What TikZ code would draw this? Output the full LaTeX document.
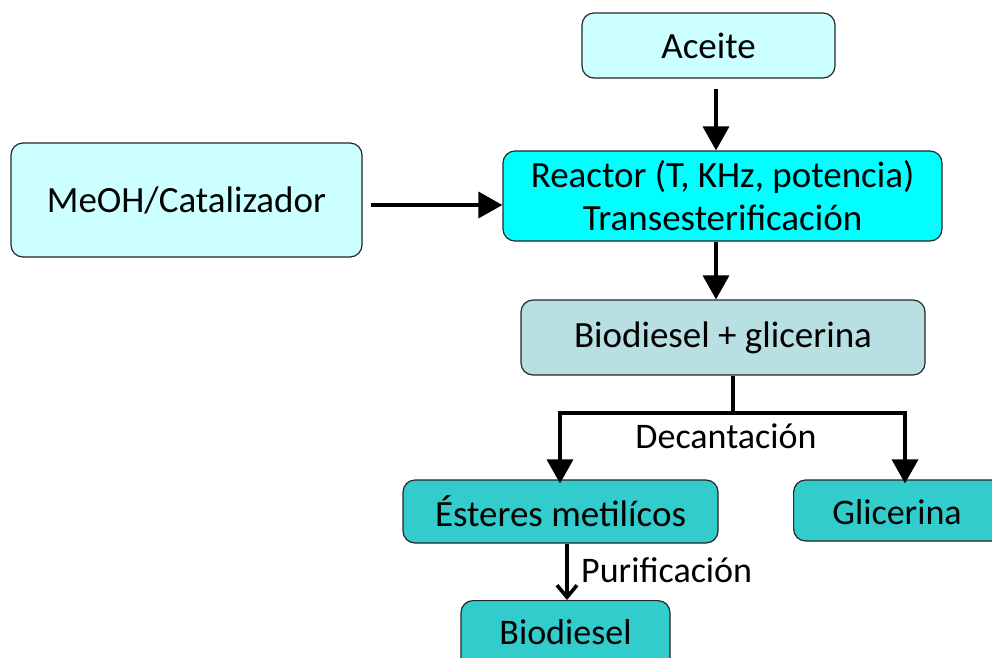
\documentclass[tikz,border=0pt]{standalone}
\usepackage{fontspec}
\setmainfont{Carlito}
\usetikzlibrary{arrows.meta,calc}
\definecolor{lightc}{HTML}{CCFFFF}
\definecolor{cyanc}{HTML}{00FFFF}
\definecolor{greyc}{HTML}{B8DFE2}
\definecolor{tealc}{HTML}{33CCCC}
\tikzset{
  box/.style={draw=black!85, line width=1.2pt, rounded corners=12pt, inner sep=0pt, align=center,
    font=\fontsize{37}{43}\selectfont},
  arr/.style={line width=3.6pt, -{Triangle[width=26pt,length=24pt]}},
  ln/.style={line width=3.6pt},
  lbl/.style={font=\fontsize{36}{40}\selectfont, inner sep=0pt}
}
\begin{document}
\begin{tikzpicture}[x=1pt,y=-1pt]
\useasboundingbox (0,0) rectangle (992,657);
\clip (0,0) rectangle (992,657);
\node[box, fill=lightc, minimum width=253pt, minimum height=65pt] (aceite) at (708.5,45.5) {Aceite};
\node[box, fill=lightc, minimum width=351pt, minimum height=114pt] (meoh) at (186.5,200) {MeOH/Catalizador};
\node[box, fill=cyanc, minimum width=439pt, minimum height=90pt] (reactor) at (722.5,196) {Reactor (T, KHz, potencia)\\Transesterificación};
\node[box, fill=greyc, minimum width=404pt, minimum height=75pt] (bg) at (723,337.5) {Biodiesel + glicerina};
\node[box, fill=tealc, minimum width=315pt, minimum height=63pt] (est) at (560.5,511.5) {Ésteres metilícos};
\node[box, fill=tealc, minimum width=230pt, minimum height=61pt, anchor=west] (gli) at (793,510.5) {};
\node[lbl] (glit) at (897,512) {Glicerina};
\node[box, fill=tealc, minimum width=209pt, minimum height=80pt, anchor=north] (bio) at (565.5,600) {};
\node[lbl] (biot) at (565.5,632) {Biodiesel};
% connectors
\draw[arr] ([xshift=7.5pt,yshift=-10pt]aceite.south) -- ([xshift=7.5pt]aceite.south |- reactor.north);
\draw[arr] ([xshift=-6.5pt]reactor.south) -- ([xshift=-6.5pt]reactor.south |- bg.north);
\draw[arr] ([xshift=8pt]meoh.east |- 0,205) -- (reactor.west |- 0,205);
\coordinate (split) at (733,413);
\coordinate (sl) at (560,413);
\coordinate (sr) at (905,413);
\draw[ln] (bg.south -| split) -- (split);
\draw[ln, line cap=rect] (sl) -- (sr);
\draw[arr] (sl) -- ([yshift=-4pt]sl |- est.north);
\draw[arr] (sr) -- ([yshift=-4pt]sr |- gli.north);
\draw[line width=3.6pt, -{Straight Barb[width=20pt,length=12pt]}] ([xshift=6.5pt]est.south) -- ([xshift=6.5pt]est.south |- bio.north);
\node[lbl] (dec) at (726,436) {Decantación};
\node[lbl, anchor=west] (pur) at (581,570) {Purificación};
\end{tikzpicture}
\end{document}
